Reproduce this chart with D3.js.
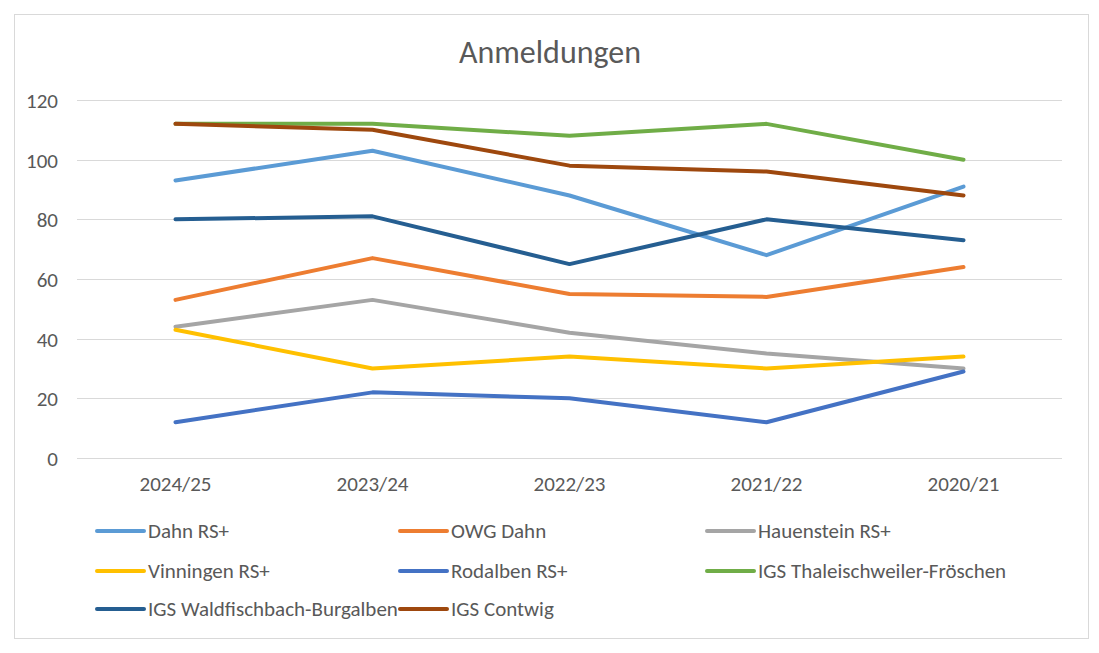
<!DOCTYPE html>
<html>
<head>
<meta charset="utf-8">
<script src="https://cdn.jsdelivr.net/npm/d3@7/dist/d3.min.js"></script>
<style>
  html, body { margin: 0; padding: 0; background: #fff; }
  svg { display: block; }
  text { font-family: Carlito, "Open Sans", "Noto Sans", sans-serif; fill: #595959; }
</style>
</head>
<body>
<svg id="chart" width="1099" height="653"></svg>
<script>
const categories = ["2024/25", "2023/24", "2022/23", "2021/22", "2020/21"];
const seriesNames = ["Dahn RS+", "OWG Dahn", "Hauenstein RS+", "Vinningen RS+", "Rodalben RS+", "IGS Thaleischweiler-Fröschen", "IGS Waldfischbach-Burgalben", "IGS Contwig"];
const seriesColors = ["#5B9BD5", "#ED7D31", "#A5A5A5", "#FFC000", "#4472C4", "#70AD47", "#255E91", "#9E480E"];
const dahn = [93, 103, 88, 68, 91];
const owgDahn = [53, 67, 55, 54, 64];
const hauenstein = [44, 53, 42, 35, 30];
const vinningen = [43, 30, 34, 30, 34];
const rodalben = [12, 22, 20, 12, 29];
const thaleischweiler = [112, 112, 108, 112, 100];
const waldfischbach = [80, 81, 65, 80, 73];
const contwig = [112, 110, 98, 96, 88];
const yTicks = [0, 20, 40, 60, 80, 100, 120];
const title = "Anmeldungen";

const seriesValues = [dahn, owgDahn, hauenstein, vinningen, rodalben, thaleischweiler, waldfischbach, contwig];

const svg = d3.select("#chart");

// chart border
svg.append("rect").attr("x", 14.5).attr("y", 14.5).attr("width", 1074).attr("height", 624)
  .attr("fill", "#fff").attr("stroke", "#d9d9d9").attr("stroke-width", 1);

const plot = { left: 77, right: 1062, top: 100, bottom: 458 };

const x = d3.scaleBand().domain(categories).range([plot.left, plot.right]);
const y = d3.scaleLinear().domain([0, 120]).range([plot.bottom, plot.top]);

// title
svg.append("text").attr("x", 550).attr("y", 63).attr("text-anchor", "middle")
  .style("font-size", "32px").text(title);

// gridlines
svg.append("g").selectAll("line").data(yTicks).join("line")
  .attr("x1", plot.left).attr("x2", plot.right)
  .attr("y1", d => Math.round(y(d)) + 0.5).attr("y2", d => Math.round(y(d)) + 0.5)
  .attr("stroke", "#d9d9d9").attr("stroke-width", 1);

// y axis labels
const yAxis = d3.axisLeft(y).tickValues(yTicks).tickSize(0).tickPadding(0);
const gy = svg.append("g").attr("transform", `translate(${plot.left - 19},0)`).call(yAxis);
gy.select(".domain").remove();
gy.selectAll("text").style("font-size", "21px").attr("fill", "#595959").attr("dy", "0.35em");

// x axis labels
const xAxis = d3.axisBottom(x).tickSize(0).tickPadding(0);
const gx = svg.append("g").attr("transform", `translate(0,${plot.bottom + 18})`).call(xAxis);
gx.select(".domain").remove();
gx.selectAll("text").style("font-size", "21px").attr("fill", "#595959").attr("dy", "0.71em");

// lines
const line = d3.line()
  .x((d, i) => x(categories[i]) + x.bandwidth() / 2)
  .y(d => y(d));

svg.append("g").selectAll("path").data(seriesValues).join("path")
  .attr("d", d => line(d))
  .attr("fill", "none")
  .attr("stroke", (d, i) => seriesColors[i])
  .attr("stroke-width", 4)
  .attr("stroke-linecap", "round")
  .attr("stroke-linejoin", "round");

// legend
const legCols = [97, 400, 707];
const legRows = [531, 571, 609];
const leg = svg.append("g").selectAll("g").data(seriesNames).join("g")
  .attr("transform", (d, i) => `translate(${legCols[i % 3]},${legRows[Math.floor(i / 3)]})`);
leg.append("line").attr("x1", 0).attr("x2", 47).attr("y1", 0).attr("y2", 0)
  .attr("stroke", (d, i) => seriesColors[i]).attr("stroke-width", 4).attr("stroke-linecap", "round");
leg.append("text").attr("x", 51).attr("y", 0).attr("dy", "0.35em")
  .style("font-size", "21px").text(d => d);
</script>
</body>
</html>
